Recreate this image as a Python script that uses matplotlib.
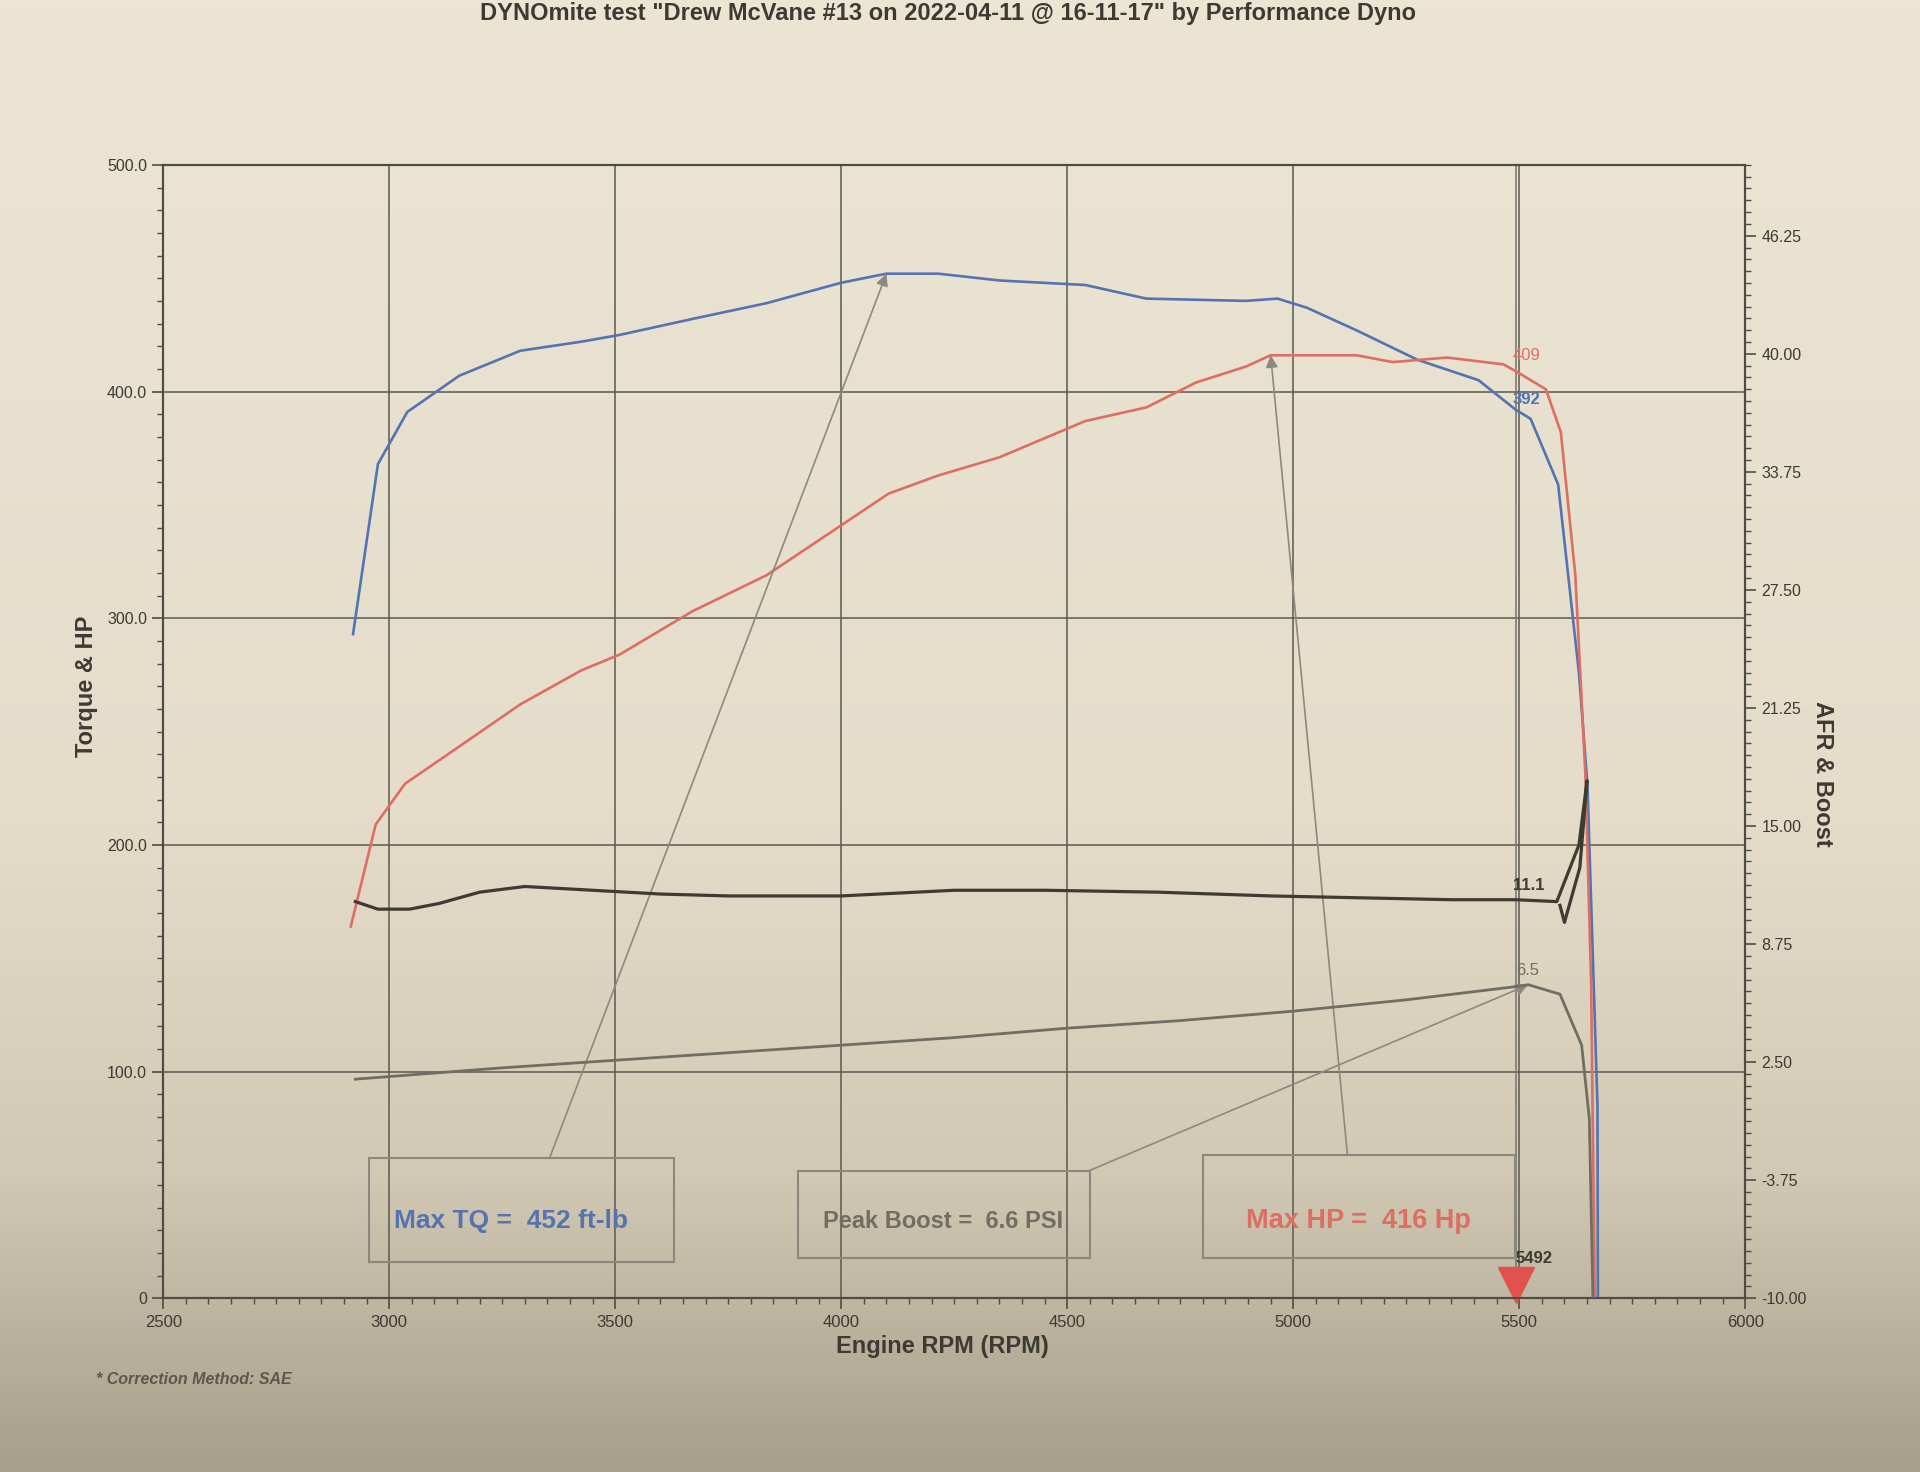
import numpy as np
import matplotlib.pyplot as plt
from matplotlib.patches import Rectangle
from matplotlib.colors import LinearSegmentedColormap
from matplotlib.ticker import MultipleLocator, FuncFormatter

plt.rcParams['font.family'] = ['Liberation Sans', 'DejaVu Sans']

# values
tq_rpm = [2920, 2975, 3040, 3155, 3290, 3425, 3510, 3670, 3835, 4000, 4100, 4215,
          4350, 4540, 4675, 4895, 4965, 5030, 5140, 5275, 5410, 5492, 5525, 5586,
          5632, 5651, 5673, 5674]
tq = [293, 368, 391, 407, 418, 422, 425, 432, 439, 448, 452, 452,
      449, 447, 441, 440, 441, 437, 427, 414, 405, 392, 388, 359,
      276, 226, 85, 0]

hp_rpm = [2915, 2970, 3035, 3130, 3290, 3425, 3510, 3670, 3835, 4000, 4105, 4215,
          4350, 4540, 4675, 4785, 4895, 4950, 5140, 5220, 5340, 5465, 5492, 5559,
          5592, 5624, 5646, 5659, 5667]
hp = [164, 209, 227, 240, 262, 277, 284, 303, 319, 341, 355, 363,
      371, 387, 393, 404, 411, 416, 416, 413, 415, 412, 409, 401,
      382, 319, 232, 139, 0]

afr_rpm = [2925, 2975, 3045, 3110, 3200, 3300, 3450, 3600, 3750, 4000, 4250, 4450,
           4700, 4950, 5150, 5350, 5492, 5583, 5632, 5650, 5634, 5600, 5590]
afr = [11.0, 10.6, 10.6, 10.9, 11.5, 11.8, 11.6, 11.4, 11.3, 11.3, 11.6, 11.6,
       11.5, 11.3, 11.2, 11.1, 11.1, 11.0, 14.0, 17.4, 12.8, 9.9, 10.8]

boost_rpm = [2925, 3250, 3500, 3750, 4000, 4250, 4500, 4750, 5000, 5250, 5492, 5520,
             5590, 5638, 5655, 5663]
boost = [1.6, 2.2, 2.6, 3.0, 3.4, 3.8, 4.3, 4.7, 5.2, 5.8, 6.5, 6.6,
         6.1, 3.4, -0.5, -10.0]

cursor_rpm = 5492
cursor_tq, cursor_hp, cursor_afr, cursor_boost = 392, 409, 11.1, 6.5
max_tq, max_tq_rpm = 452, 4100
max_hp, max_hp_rpm = 416, 4950
peak_boost, peak_boost_rpm = 6.6, 5520

x_ticks = [2500, 3000, 3500, 4000, 4500, 5000, 5500, 6000]
left_ticks = [0, 100, 200, 300, 400, 500]
right_ticks = [-10.0, -3.75, 2.5, 8.75, 15.0, 21.25, 27.5, 33.75, 40.0, 46.25]

c_tq = '#5573af'
c_hp = '#dc6e64'
c_afr = '#3e3b33'
c_boost = '#6f6e62'
c_ink = '#3d3a33'
c_grid = '#5a5850'

fig = plt.figure(figsize=(19.2, 14.72), dpi=100)

# paper background (photo gets darker towards the bottom)
bg = fig.add_axes([0, 0, 1, 1], zorder=0)
paper = LinearSegmentedColormap.from_list(
    'paper', [(0, '#ece5d4'), (0.55, '#e5ddca'), (0.8, '#d2c9b4'), (1, '#a89f8a')])
grad = np.linspace(0, 1, 300).reshape(-1, 1)
bg.imshow(grad, cmap=paper, aspect='auto', extent=[0, 1, 0, 1])
bg.axis('off')

ax = fig.add_axes([0.085, 0.118, 0.824, 0.77], zorder=1)
ax.set_facecolor('none')
ax2 = ax.twinx()
ax2.set_facecolor('none')

ax.plot(tq_rpm, tq, color=c_tq, lw=1.9, zorder=3)
ax.plot(hp_rpm, hp, color=c_hp, lw=1.9, zorder=3)
ax2.plot(afr_rpm, afr, color=c_afr, lw=2.3, zorder=3)
ax2.plot(boost_rpm, boost, color=c_boost, lw=2.0, zorder=3)

ax.set_xlim(2500, 6000)
ax.set_ylim(0, 500)
ax2.set_ylim(-10, 50)

ax.set_xticks(x_ticks)
ax.set_yticks(left_ticks)
ax2.set_yticks(right_ticks)
ax.xaxis.set_minor_locator(MultipleLocator(50))
ax.yaxis.set_minor_locator(MultipleLocator(10))
ax2.yaxis.set_minor_locator(MultipleLocator(0.625))
ax.yaxis.set_major_formatter(FuncFormatter(lambda v, p: '0' if v == 0 else f'{v:.1f}'))
ax2.yaxis.set_major_formatter(FuncFormatter(lambda v, p: f'{v:.2f}'))

for a in (ax, ax2):
    for s in a.spines.values():
        s.set_color('#4f4c44')
        s.set_linewidth(1.5)
    a.tick_params(which='major', length=8, width=1.2, color='#4f4c44',
                  labelsize=11.5, labelcolor=c_ink, direction='out')
    a.tick_params(which='minor', length=4, width=1.0, color='#4f4c44', direction='out')
ax.tick_params(axis='x', labelsize=12, pad=4)

ax.grid(which='major', color=c_grid, lw=1.1)
ax.set_axisbelow(True)

# cursor line and marker
ax.axvline(cursor_rpm, color='#77746a', lw=1.1, zorder=2)
ax.plot([cursor_rpm], [6], marker='v', ms=26, color='#e0524d', clip_on=False, zorder=5)
ax.annotate(str(cursor_rpm), (cursor_rpm, 13), xytext=(0, 2), textcoords='offset points',
            ha='left', va='bottom', fontsize=12, weight='bold', color=c_ink)
ax.annotate(str(cursor_hp), (cursor_rpm, cursor_hp), xytext=(-2, 6), textcoords='offset points',
            ha='left', va='bottom', fontsize=12, color=c_hp)
ax.annotate(str(cursor_tq), (cursor_rpm, cursor_tq), xytext=(-2, 2), textcoords='offset points',
            ha='left', va='bottom', fontsize=12, weight='bold', color=c_tq)
ax2.annotate(f'{cursor_afr:.1f}', (cursor_rpm, cursor_afr), xytext=(-2, 5), textcoords='offset points',
             ha='left', va='bottom', fontsize=12, weight='bold', color=c_afr)
ax2.annotate(f'{cursor_boost:.1f}', (cursor_rpm, cursor_boost), xytext=(0, 6), textcoords='offset points',
             ha='left', va='bottom', fontsize=12, color=c_boost)

# summary boxes with leader arrows
arrow = dict(arrowstyle='-|>', color='#8c897f', lw=1.2, mutation_scale=18, shrinkA=0, shrinkB=0)

ax.add_patch(Rectangle((2955, 16), 675, 46, fill=False, ec='#8a877d', lw=1.5, zorder=4))
ax.text(3270, 34, f'Max TQ =  {max_tq} ft-lb', ha='center', va='center',
        fontsize=19, weight='bold', color=c_tq, zorder=5)
ax.annotate('', xy=(max_tq_rpm, max_tq), xytext=(3355, 62), arrowprops=arrow, zorder=4)

ax.add_patch(Rectangle((3905, 18), 646, 38, fill=False, ec='#8a877d', lw=1.5, zorder=4))
ax.text(4225, 34, f'Peak Boost =  {peak_boost} PSI', ha='center', va='center',
        fontsize=17, weight='bold', color=c_boost, zorder=5)
ax.annotate('', xy=(peak_boost_rpm, peak_boost), xycoords=ax2.transData,
            xytext=(4545, 56), textcoords=ax.transData, arrowprops=arrow, zorder=4)

ax.add_patch(Rectangle((4800, 18), 690, 45, fill=False, ec='#8a877d', lw=1.5, zorder=4))
ax.text(5145, 34, f'Max HP =  {max_hp} Hp', ha='center', va='center',
        fontsize=19.5, weight='bold', color=c_hp, zorder=5)
ax.annotate('', xy=(max_hp_rpm, max_hp), xytext=(5120, 63), arrowprops=arrow, zorder=4)

fig.text(0.494, 0.9905, 'DYNOmite test "Drew McVane #13 on 2022-04-11 @ 16-11-17" by Performance Dyno',
         ha='center', va='center', fontsize=17, weight='bold', color=c_ink)
fig.text(0.491, 0.085, 'Engine RPM (RPM)', ha='center', va='center',
         fontsize=17, weight='bold', color=c_ink)
fig.text(0.045, 0.534, 'Torque & HP', ha='center', va='center', rotation=90,
         fontsize=17, weight='bold', color=c_ink)
fig.text(0.949, 0.474, 'AFR & Boost', ha='center', va='center', rotation=270,
         fontsize=17, weight='bold', color=c_ink)
fig.text(0.05, 0.0625, '* Correction Method: SAE', ha='left', va='center',
         fontsize=11.5, weight='bold', style='italic', color='#5a574e')

fig.savefig('out.png', dpi=100)
